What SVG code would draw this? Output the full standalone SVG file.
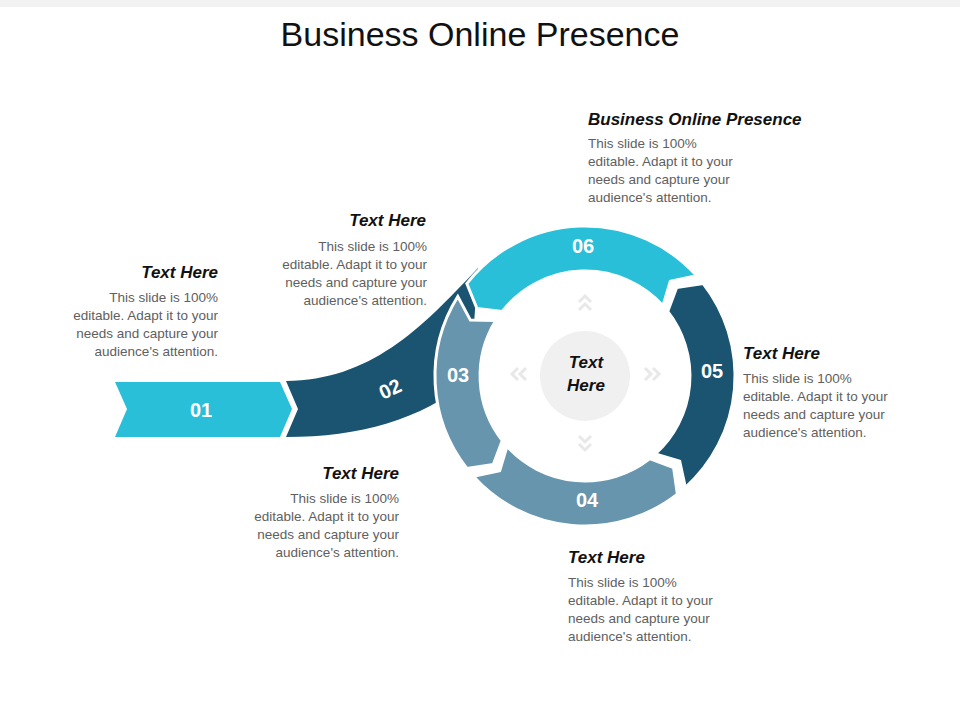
<svg xmlns="http://www.w3.org/2000/svg" width="960" height="720" viewBox="0 0 960 720">
<style>
.h{font-family:"Liberation Sans",Arial,sans-serif;font-weight:bold;font-style:italic;font-size:17px;fill:#111}
.b{font-family:"Liberation Sans",Arial,sans-serif;font-size:13.5px;fill:#606060}
.n{font-family:"Liberation Sans",Arial,sans-serif;font-weight:bold;font-size:20px;fill:#fff;text-anchor:middle}
.seg{stroke:#fff;stroke-width:3}
.chev{fill:none;stroke:#e8e8e8;stroke-width:3}
</style>
<rect width="960" height="720" fill="#fff"/>
<rect width="960" height="7" fill="#f2f2f2"/>
<text x="480" y="46" text-anchor="middle" font-family="Liberation Sans,Arial,sans-serif" font-size="34" fill="#111">Business Online Presence</text>
<g id="connectors"></g>
<g id="n01"><path d="M115,382 L280,382 L292,409 L280,437 L115,437 L127,409 Z" fill="#29bfd9"/><text class="n" x="201" y="417">01</text></g>
<g id="n02"><path d="M286,381 C370,380 420,330 478,268 L470,380 C420,420 360,437 286,437 L298,409 Z" fill="#1a5470"/><text class="n" x="390" y="396" transform="rotate(-25 390 389)">02</text></g>
<g id="n06"><path class="seg" d="M696.5,275.6 A150 150 0 0 0 466.8,283.6 L476.9,308.4 L502.3,311.4 A105 105 0 0 1 663,305.7 L670.3,281.3 Z" fill="#29bfd9"/><text class="n" x="583" y="253">06</text></g>
<g id="n05"><path class="seg" d="M685.4,487.5 A150 150 0 0 0 703.2,283.6 L676.7,287.4 L667.7,311.4 A105 105 0 0 1 655.3,454 L679.7,461.3 Z" fill="#1a5470"/><text class="n" x="712" y="378">05</text></g>
<g id="n04"><path class="seg" d="M473.5,476.4 A150 150 0 0 0 677.4,494.2 L673.6,467.7 L649.6,458.7 A105 105 0 0 1 507,446.3 L499.7,470.7 Z" fill="#6795ad"/><text class="n" x="587" y="507">04</text></g>
<g id="n03"><path class="seg" d="M457.8,296.5 A150 150 0 0 0 466.8,468.4 L493.3,464.6 L502.3,440.6 A105 105 0 0 1 496,320.4 L470.4,320.1 Z" fill="#6795ad"/><text class="n" x="458" y="382">03</text></g>
<g id="center"><circle cx="585" cy="376" r="45" fill="#f0f0f0"/>
<text class="h" x="586" y="368" text-anchor="middle">Text</text><text class="h" x="586" y="391" text-anchor="middle">Here</text>
<path class="chev" d="M579,302 l6,-6 l6,6 M579,310 l6,-6 l6,6 M579,436 l6,6 l6,-6 M579,444 l6,6 l6,-6 M518,368 l-6,6 l6,6 M526,368 l-6,6 l6,6 M645,368 l6,6 l-6,6 M653,368 l6,6 l-6,6"/></g>
<g id="t1"><text class="h" x="588" y="125">Business Online Presence</text>
<text class="b" x="588" y="148">This slide is 100%</text><text class="b" x="588" y="166">editable. Adapt it to your</text><text class="b" x="588" y="184">needs and capture your</text><text class="b" x="588" y="202">audience's attention.</text></g>
<g id="t2" text-anchor="end"><text class="h" x="426" y="226">Text Here</text>
<text class="b" x="427" y="251">This slide is 100%</text><text class="b" x="427" y="269">editable. Adapt it to your</text><text class="b" x="427" y="287">needs and capture your</text><text class="b" x="427" y="305">audience's attention.</text></g>
<g id="t3" text-anchor="end"><text class="h" x="218" y="278">Text Here</text>
<text class="b" x="218" y="302">This slide is 100%</text><text class="b" x="218" y="320">editable. Adapt it to your</text><text class="b" x="218" y="338">needs and capture your</text><text class="b" x="218" y="356">audience's attention.</text></g>
<g id="t4"><text class="h" x="743" y="359">Text Here</text>
<text class="b" x="743" y="383">This slide is 100%</text><text class="b" x="743" y="401">editable. Adapt it to your</text><text class="b" x="743" y="419">needs and capture your</text><text class="b" x="743" y="437">audience's attention.</text></g>
<g id="t5" text-anchor="end"><text class="h" x="399" y="479">Text Here</text>
<text class="b" x="399" y="503">This slide is 100%</text><text class="b" x="399" y="521">editable. Adapt it to your</text><text class="b" x="399" y="539">needs and capture your</text><text class="b" x="399" y="557">audience's attention.</text></g>
<g id="t6"><text class="h" x="568" y="563">Text Here</text>
<text class="b" x="568" y="587">This slide is 100%</text><text class="b" x="568" y="605">editable. Adapt it to your</text><text class="b" x="568" y="623">needs and capture your</text><text class="b" x="568" y="641">audience's attention.</text></g>
</svg>
